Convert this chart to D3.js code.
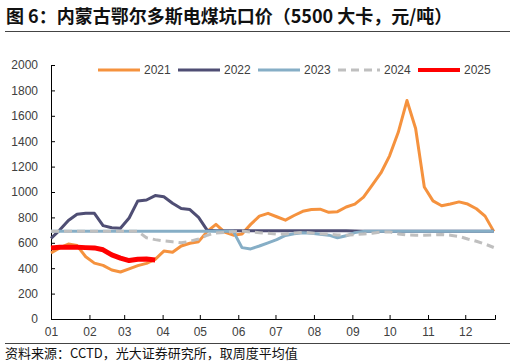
<!DOCTYPE html>
<html><head><meta charset="utf-8">
<script src="https://cdn.jsdelivr.net/npm/d3@7/dist/d3.min.js"></script>
<style>
html,body{margin:0;padding:0;background:#fff;}
svg{display:block;font-family:"Noto Sans CJK SC","Noto Sans",sans-serif;}
</style></head>
<body><svg id="c" width="516" height="364"></svg>
<script>
const title = "图 6：内蒙古鄂尔多斯电煤坑口价（5500 大卡，元/吨）";
const source = "资料来源：CCTD，光大证券研究所，取周度平均值";
const monthLabels = ["01","02","03","04","05","06","07","08","09","10","11","12"];
const yTicks = [0,200,400,600,800,1000,1200,1400,1600,1800,2000];
const seriesNames = ["2021","2022","2023","2024","2025"];
const seriesColors = ["#F5923E","#4F4E74","#86AEC6","#BFBFBF","#FF0000"];

const v2021 = [520,560,590,578,490,440,422,386,370,395,420,438,470,535,525,575,596,609,690,745,685,660,670,745,810,832,805,778,815,848,862,865,840,845,882,905,960,1055,1150,1285,1470,1720,1500,1040,930,892,905,922,905,868,810,690];
const v2022 = [635,700,775,825,832,832,735,718,714,795,930,937,972,962,912,870,862,800,698,695,695,695,695,695,695,695,695,695,695,695,695,695,695,695,695,693,690,690,690,690,690,690,690,690,690,690,690,690,690,690,690,690];
const v2023 = [690,690,690,690,690,690,690,690,690,690,690,690,690,690,690,690,690,690,690,690,690,690,562,552,575,600,625,658,672,680,676,668,660,640,655,680,690,690,690,690,690,690,690,690,690,690,690,690,690,690,690,690];
const v2024 = [690,690,690,690,690,690,690,690,690,690,690,640,625,615,608,600,612,630,660,678,682,688,692,685,680,675,668,670,678,682,678,672,668,662,660,664,670,676,684,686,670,662,660,660,662,666,660,650,630,612,590,563];
const v2025 = [560,565,565,565,562,560,545,505,480,460,470,472,465];
const allSeries = [v2021,v2022,v2023,v2024,v2025];

const svg = d3.select("#c");
const start = new Date(2021,0,1);
const weekDate = i => d3.timeDay.offset(start, 7*i);

const x = d3.scaleTime().domain([start, new Date(2021,11,25)]).range([51,495]);
const y = d3.scaleLinear().domain([0,2000]).range([319,65]);

// title
svg.append("text").attr("x",6).attr("y",23).attr("font-size",18).attr("font-weight","bold")
  .attr("fill","#111").text(title);
svg.append("line").attr("x1",5).attr("x2",510).attr("y1",31.5).attr("y2",31.5)
  .attr("stroke","#444").attr("stroke-width",1.2);
svg.append("line").attr("x1",5).attr("x2",510).attr("y1",343.5).attr("y2",343.5)
  .attr("stroke","#444").attr("stroke-width",1.2);
svg.append("text").attr("x",5).attr("y",358).attr("font-size",13).attr("fill","#111").text(source);

// axes
const monthTicks = d3.range(12).map(m => new Date(2021,m,1));
const xAxis = d3.axisBottom(x).tickValues(monthTicks).tickSize(-4).tickPadding(8)
  .tickFormat((d,i)=>monthLabels[i]);
const gx = svg.append("g").attr("transform","translate(0,319)").call(xAxis);
gx.select(".domain").attr("stroke","#000");
gx.selectAll(".tick line").attr("stroke","#000");
gx.selectAll("text").attr("font-size",12).attr("fill","#404040")
  .attr("font-family","Liberation Sans, Arial, sans-serif");

const yAxis = d3.axisLeft(y).tickValues(yTicks).tickSize(-4).tickPadding(13).tickFormat(d3.format("d"));
const gy = svg.append("g").attr("transform","translate(51,0)").call(yAxis);
gy.select(".domain").attr("stroke","#000");
gy.selectAll(".tick line").attr("stroke","#000");
gy.selectAll("text").attr("font-size",12).attr("fill","#404040")
  .attr("font-family","Liberation Sans, Arial, sans-serif");

// lines
const line = d3.line().x((d,i)=>x(weekDate(i))).y(d=>y(d));
allSeries.forEach((s,k)=>{
  svg.append("path").datum(s).attr("d",line).attr("fill","none")
    .attr("stroke",seriesColors[k])
    .attr("stroke-width", k===4 ? 5 : 3)
    .attr("stroke-linejoin","round")
    .attr("stroke-dasharray", k===3 ? "8,5" : null);
});

// legend
const lg = svg.append("g");
seriesNames.forEach((n,k)=>{
  const lx = 98 + k*80;
  lg.append("line").attr("x1",lx).attr("x2",lx+42).attr("y1",70).attr("y2",70)
    .attr("stroke",seriesColors[k]).attr("stroke-width", k===4?4:3)
    .attr("stroke-dasharray", k===3 ? "8,5" : null);
  lg.append("text").attr("x",lx+46).attr("y",74).attr("font-size",12).attr("fill","#404040")
    .attr("font-family","Liberation Sans, Arial, sans-serif").text(n);
});
</script></body></html>
